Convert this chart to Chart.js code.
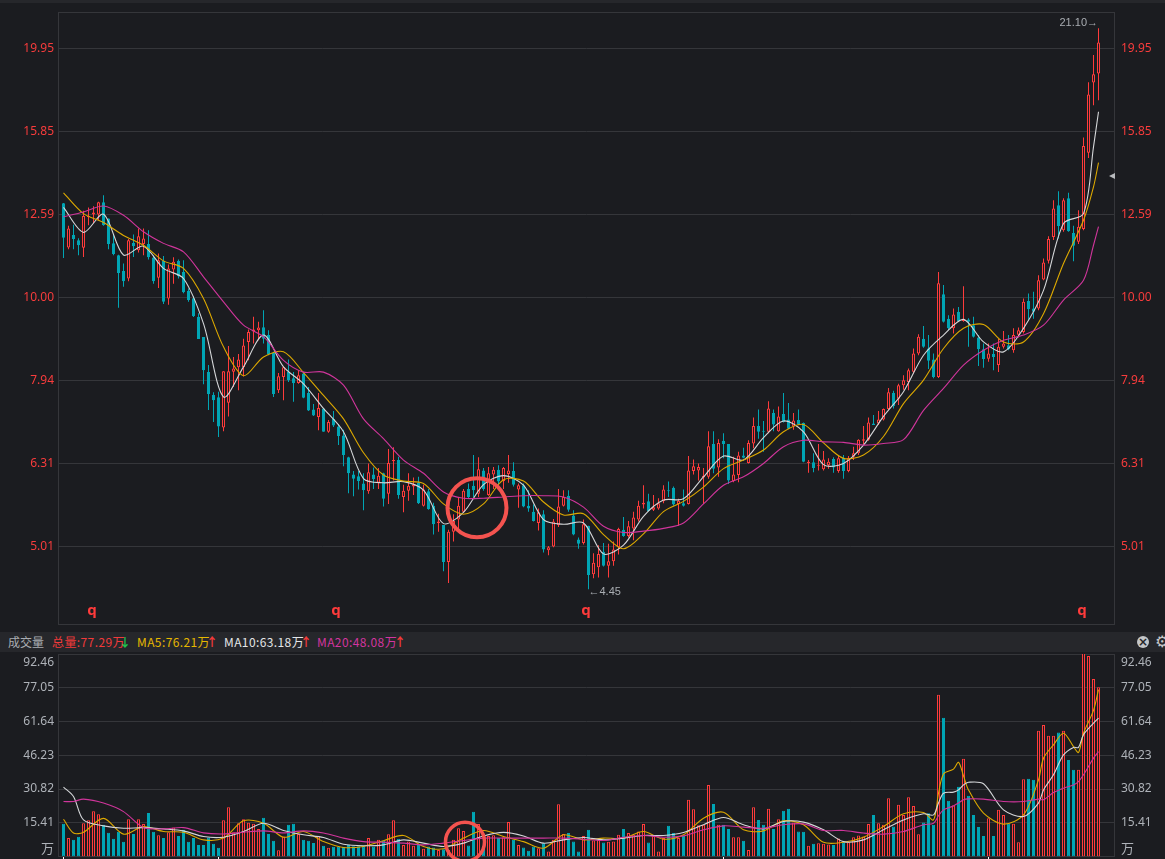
<!DOCTYPE html>
<html>
<head>
<meta charset="utf-8">
<title>K线</title>
<script src="https://cdn.jsdelivr.net/npm/chart.js@4/dist/chart.umd.min.js"></script>
<style>
  html, body { margin: 0; padding: 0; background: #1b1c20; overflow: hidden; width: 1165px; height: 859px; }
  canvas { position: absolute; left: 0; }
  #topband { position: absolute; left: 0; top: 0; width: 1165px; height: 3px; background: #26272b; }
  #volbar { position: absolute; left: 0; top: 632px; width: 1165px; height: 20px; background: #26272b;
    font: 12px "Noto Sans CJK SC", "Noto Sans", sans-serif; line-height: 20px; }
  #volbar span { position: absolute; top: 0; white-space: nowrap; }
  #volbar .ma { letter-spacing: 0.4px; }
  #closeBtn { position: absolute; left: 1137px; top: 4px; width: 12px; height: 12px; border-radius: 6px; background: #c4c6c8;
    color: #26272b; font: bold 12px/12px "DejaVu Sans"; text-align: center; }
</style>
</head>
<body>
<div id="topband"></div>
<canvas id="priceChart" width="1165" height="632" style="top:0;width:1165px;height:632px"></canvas>
<div id="volbar">
  <span style="left:8px;color:#a9adb2">成交量</span>
  <span class="ma" style="left:52px;color:#f23a3a">总量:77.29万</span>
  <span style="left:119px;color:#1fc24f;font-weight:bold">↓</span>
  <span class="ma" style="left:137px;color:#e6b800">MA5:76.21万</span>
  <span style="left:206px;color:#f23a3a;font-weight:bold">↑</span>
  <span class="ma" style="left:224px;color:#e4e6e8">MA10:63.18万</span>
  <span style="left:300px;color:#f23a3a;font-weight:bold">↑</span>
  <span class="ma" style="left:317px;color:#d3359f">MA20:48.08万</span>
  <span style="left:394px;color:#f23a3a;font-weight:bold">↑</span>
  <div id="closeBtn">×</div>
  <span style="left:1155px;color:#c4c6c8;font:16px/20px 'DejaVu Sans'">⚙</span>
</div>
<canvas id="volChart" width="1165" height="209" style="top:650px;width:1165px;height:209px"></canvas>

<script>
const opens = [
  12.99,11.49,11.89,11.72,11.48,12.50,12.59,12.59,13.02,12.45,
  11.62,11.24,10.76,10.54,11.63,11.40,11.60,11.60,11.17,10.56,
  11.07,9.97,10.81,11.07,10.73,10.18,9.98,9.48,8.96,8.13,
  7.63,7.58,6.97,7.47,8.14,8.24,8.24,8.84,9.10,9.13,
  9.21,9.01,8.58,7.73,8.02,8.14,7.99,7.89,8.10,7.67,
  7.33,7.18,7.35,6.89,7.14,6.99,6.82,6.42,6.12,6.09,
  5.97,5.84,6.12,5.98,6.14,5.80,6.35,6.37,5.75,5.85,
  5.92,5.98,5.61,5.84,5.61,5.35,5.32,4.80,5.22,5.40,
  5.52,5.88,5.93,5.80,6.19,5.78,6.12,6.20,6.01,6.13,
  6.18,5.87,5.94,5.61,5.52,5.35,5.48,4.96,5.01,5.32,
  5.61,5.77,5.46,5.11,5.06,5.31,4.64,4.73,4.94,4.75,
  4.81,5.00,5.25,5.16,5.27,5.40,5.63,5.68,5.55,5.57,
  5.68,5.86,5.90,5.64,5.65,5.64,6.18,6.19,6.07,6.08,
  6.66,6.24,6.72,6.66,6.01,6.11,6.45,6.32,6.67,7.00,
  6.90,6.89,7.26,6.90,7.24,7.13,6.99,7.12,7.06,6.32,
  6.33,6.27,6.21,6.28,6.39,6.18,6.41,6.18,6.43,6.49,
  6.72,6.74,7.05,7.05,7.13,7.34,7.67,7.55,7.84,7.91,
  8.14,8.56,8.92,8.68,8.42,8.02,10.09,9.43,9.18,9.61,
  9.37,9.41,9.26,8.95,8.66,8.44,8.55,8.29,8.72,8.76,
  8.64,9.02,9.09,9.90,9.70,9.70,10.51,11.07,11.83,12.92,
  12.05,13.17,11.96,11.67,12.09,14.94,18.16,18.61
];
const closes = [
  11.80,12.11,11.76,11.56,12.54,12.54,12.66,13.02,12.22,11.60,
  11.28,10.70,10.46,11.72,11.53,11.85,11.78,11.18,10.46,11.09,
  9.88,10.84,11.04,10.61,10.15,9.93,9.49,8.91,8.17,7.65,
  7.52,6.99,8.15,8.15,8.21,8.42,8.75,9.09,9.15,9.20,
  8.92,8.54,7.65,8.04,8.24,7.95,7.88,8.06,7.57,7.31,
  7.21,7.36,6.89,7.08,7.01,6.81,6.46,6.14,6.05,6.01,
  5.86,6.16,6.04,6.10,5.72,6.32,6.37,5.78,5.85,5.93,
  5.95,5.65,5.87,5.56,5.33,5.37,4.80,5.22,5.38,5.61,
  5.85,5.75,5.86,6.21,5.88,6.14,6.20,6.00,6.23,6.19,
  5.95,5.94,5.60,5.57,5.38,5.51,4.97,5.00,5.37,5.60,
  5.75,5.55,5.18,5.05,5.33,4.63,4.79,4.91,4.75,4.81,
  4.97,5.26,5.16,5.30,5.43,5.61,5.66,5.53,5.59,5.65,
  5.87,5.84,5.63,5.69,5.61,6.19,6.26,6.25,6.10,6.62,
  6.22,6.68,6.66,6.02,6.12,6.45,6.41,6.68,7.00,6.89,
  6.89,7.35,7.03,7.19,7.08,6.95,7.11,7.03,6.34,6.34,
  6.23,6.28,6.38,6.34,6.24,6.40,6.18,6.40,6.49,6.74,
  6.75,7.07,7.02,7.13,7.34,7.69,7.40,7.84,7.95,8.17,
  8.56,8.97,8.72,8.39,8.02,10.40,9.35,9.18,9.54,9.37,
  9.43,9.35,8.97,8.66,8.43,8.56,8.48,8.72,8.80,8.66,
  9.01,9.13,9.88,9.68,9.61,10.49,11.02,11.76,12.80,12.19,
  13.10,12.02,11.54,12.17,15.22,17.56,18.58,20.29
];
const highs = [
  13.00,12.20,12.24,11.79,12.72,12.84,12.88,13.04,13.28,12.45,
  11.89,11.26,10.99,11.76,11.91,12.11,12.11,12.05,11.24,11.30,
  11.22,10.96,11.18,11.11,11.09,10.25,10.04,9.57,8.96,8.29,
  7.69,7.70,8.15,8.74,8.48,8.55,8.92,9.15,9.48,9.35,
  9.65,9.13,8.60,8.11,8.25,8.42,8.13,8.17,8.14,7.80,
  7.44,7.67,7.36,7.12,7.30,7.04,6.93,6.43,6.18,6.18,
  6.14,6.31,6.24,6.23,6.15,6.57,6.60,6.43,5.95,6.14,
  6.07,6.08,5.95,5.88,5.66,5.49,5.32,5.25,5.48,5.75,
  5.88,5.97,6.46,6.42,6.23,6.25,6.25,6.28,6.25,6.46,
  6.33,5.97,5.97,5.86,5.63,5.57,5.54,5.02,5.41,5.88,
  5.86,5.86,5.54,5.14,5.40,5.31,4.92,5.03,5.06,5.05,
  5.08,5.28,5.44,5.38,5.52,5.69,5.94,5.80,5.78,5.73,
  5.94,6.00,5.92,5.72,5.87,6.44,6.38,6.31,6.23,6.90,
  6.90,6.75,6.86,6.66,6.43,6.52,6.59,6.73,7.17,7.33,
  7.10,7.50,7.33,7.39,7.67,7.46,7.26,7.33,7.07,6.37,
  6.49,6.66,6.53,6.40,6.42,6.44,6.46,6.44,6.61,6.75,
  7.00,7.17,7.22,7.30,7.35,7.78,7.72,7.87,8.06,8.21,
  8.68,9.03,9.24,9.01,8.56,10.73,10.35,9.52,9.70,9.74,
  10.32,9.44,9.48,9.01,8.80,8.80,8.80,8.92,9.11,9.01,
  9.18,9.20,9.97,10.11,10.16,10.64,11.14,11.85,13.10,13.43,
  13.17,13.37,12.20,12.74,15.59,18.17,19.59,21.10
];
const lows = [
  11.16,11.43,11.43,11.24,11.19,12.22,12.30,12.39,12.20,11.43,
  11.24,9.72,10.30,10.46,11.19,11.33,11.24,11.11,10.39,10.27,
  9.82,9.80,10.39,10.54,10.12,9.88,9.47,8.91,7.86,7.32,
  7.08,6.79,6.90,7.19,7.80,7.73,8.03,8.40,8.80,8.88,
  8.80,8.52,7.59,7.67,7.52,7.91,7.49,7.87,7.56,7.30,
  7.20,6.92,6.89,6.87,6.98,6.64,6.26,5.81,5.76,5.87,
  5.54,5.80,5.88,5.88,5.60,5.64,6.02,5.72,5.51,5.69,
  5.78,5.64,5.60,5.55,5.18,5.22,4.68,4.53,5.08,5.22,
  5.51,5.73,5.75,5.75,5.85,5.77,5.88,5.96,5.88,5.98,
  5.92,5.58,5.59,5.52,5.37,5.24,4.93,4.89,5.00,5.29,
  5.60,5.52,5.17,4.98,5.04,4.45,4.59,4.60,4.74,4.60,
  4.75,4.90,5.15,5.14,5.10,5.37,5.57,5.52,5.53,5.55,
  5.65,5.75,5.61,5.31,5.60,5.63,6.12,6.02,5.64,6.05,
  6.14,6.08,6.40,5.96,5.99,5.99,6.40,6.31,6.58,6.76,
  6.52,6.86,6.90,6.89,7.07,6.94,6.93,7.02,6.33,6.15,
  6.16,6.19,6.19,6.22,6.15,6.15,6.05,6.16,6.37,6.46,
  6.66,6.72,7.02,7.02,7.11,7.32,7.35,7.42,7.74,7.73,
  8.10,8.52,8.70,8.20,7.99,8.00,9.33,9.13,9.05,9.35,
  9.35,8.72,8.95,8.27,8.23,8.37,8.17,8.13,8.68,8.64,
  8.58,8.95,9.05,9.39,9.43,9.65,10.49,10.99,11.73,11.78,
  12.00,12.00,11.06,11.60,12.05,14.73,17.05,17.29
];
const volumes = [
  14.9,8.4,7.6,9.0,15.2,16.6,20.7,19.3,14.5,10.8,
  8.1,11.3,6.7,17.0,10.3,17.0,14.8,19.9,11.3,9.7,
  8.5,11.1,13.2,9.4,12.2,6.7,8.5,5.3,5.3,8.7,
  5.8,4.0,16.6,22.5,11.1,15.2,17.0,15.4,14.9,12.5,
  17.7,10.3,7.2,2.9,9.1,14.5,14.9,10.3,7.6,7.2,
  6.2,9.3,4.9,4.0,4.4,4.4,4.4,5.3,4.7,4.7,
  4.7,8.4,4.6,7.6,7.3,10.2,16.6,8.1,5.3,6.8,
  4.9,5.3,3.5,4.6,4.1,3.0,3.3,3.0,7.6,12.9,
  11.7,5.0,20.4,14.8,4.6,9.4,9.7,8.4,8.8,15.8,
  7.6,5.3,4.1,2.6,4.6,3.8,6.1,2.3,7.6,23.9,
  10.3,10.7,6.8,2.3,9.4,12.2,7.3,7.6,6.4,6.7,
  6.8,9.9,12.6,10.7,9.9,11.4,14.8,6.4,9.4,2.3,
  8.4,14.0,10.7,8.4,9.4,25.9,21.6,14.3,14.5,32.7,
  24.0,14.5,14.5,12.6,8.8,8.8,7.2,3.0,22.5,16.7,
  14.5,21.8,12.5,17.0,20.9,21.8,15.5,11.4,11.3,4.9,
  5.8,6.1,5.8,5.5,5.2,8.2,6.5,6.5,8.8,9.6,
  9.1,14.8,19.0,15.2,14.5,26.6,13.7,23.6,19.0,27.1,
  23.1,10.2,15.5,19.8,14.5,73.8,63.3,25.4,23.4,31.8,
  44.6,27.7,19.0,13.5,9.4,17.5,9.4,21.3,19.0,14.9,
  14.9,6.5,35.3,35.5,35.0,57.4,60.0,55.1,55.1,56.6,
  57.4,44.1,39.6,39.6,95.0,91.6,81.0,77.3
];

const priceMaBars = [0,4,8,12,16,20,24,28,32,36,40,44,48,52,56,60,64,68,72,76,80,84,88,92,96,100,104,108,112,116,120,124,128,132,136,140,144,148,152,156,160,164,168,172,176,180,184,188,192,196,200,204,206,207];
const priceMa5 = [12.84,11.98,12.60,11.25,11.53,10.84,10.54,9.30,7.59,8.25,9.01,8.25,7.87,7.35,6.89,6.05,5.98,6.00,5.86,5.34,5.51,5.95,6.10,5.94,5.40,5.33,5.35,4.91,5.03,5.45,5.70,5.72,6.08,6.44,6.37,6.78,7.10,6.89,6.29,6.31,6.64,7.19,7.70,8.52,9.01,9.41,8.84,8.60,9.18,10.2,12.28,12.62,15.19,16.74];
const priceMa10 = [13.37,12.62,12.31,11.88,11.56,11.07,10.84,9.97,8.72,8.05,8.48,8.60,8.12,7.62,7.14,6.50,6.11,6.01,5.97,5.64,5.48,5.64,6.03,6.01,5.67,5.47,5.49,5.18,4.98,5.19,5.52,5.68,5.91,6.22,6.37,6.55,6.89,7.03,6.68,6.40,6.46,6.80,7.45,7.95,8.68,9.18,9.28,8.84,8.84,9.56,10.99,12.39,13.59,14.54];
const priceMa20 = [12.51,12.68,12.89,12.56,12.00,11.62,11.35,10.59,9.88,9.26,8.97,8.40,8.13,8.13,7.84,7.14,6.76,6.37,6.14,5.83,5.73,5.73,5.75,5.77,5.77,5.75,5.59,5.30,5.21,5.23,5.27,5.35,5.64,5.94,6.08,6.31,6.61,6.73,6.70,6.69,6.64,6.67,6.74,7.31,7.77,8.29,8.64,8.88,9.01,9.26,9.93,10.49,11.56,12.17];

const volMaBars = [0,2,4,8,12,16,20,24,28,32,36,40,44,48,52,56,60,64,68,72,76,80,84,88,92,96,100,104,108,112,116,120,124,128,132,136,140,144,148,152,156,160,164,168,172,174,175,176,178,179,180,181,184,188,192,195,196,198,200,202,203,204,206,207];
const volMa5 = [17.0,10.7,11.1,17.4,10.2,13.7,11.4,11.1,7.6,8.4,16.3,15.2,8.8,11.4,6.8,4.1,4.6,7.2,9.6,4.6,3.5,8.4,11.9,9.1,6.8,3.8,9.9,7.6,8.4,8.4,11.4,7.9,9.9,17.5,20.2,12.2,11.7,16.3,14.5,6.5,6.5,8.8,13.7,19.5,20.1,16.7,28.9,37.7,39.9,43.0,36.8,30.4,19.8,14.8,19.0,35.0,44.9,51.0,56.3,50.2,47.5,56.3,66.7,76.2];
const volMa10 = [31.7,27.4,16.7,14.0,12.9,13.2,12.6,11.7,9.1,8.8,11.4,15.2,11.9,9.9,8.7,5.6,4.9,5.3,7.6,6.1,4.6,6.1,9.4,11.0,9.4,6.1,7.6,8.7,7.6,8.4,9.6,9.6,11.0,14.5,17.8,14.5,12.6,16.0,15.7,12.2,6.8,7.6,12.2,16.7,19.5,19.0,24.4,28.9,29.4,30.4,32.7,33.9,33.2,21.3,18.3,24.4,30.4,37.3,46.4,49.8,49.8,55.6,60.9,63.2];
const volMa20 = [25.1,25.1,26.2,24.4,20.5,13.2,12.6,13.2,10.8,10.3,11.1,11.7,10.8,11.7,10.7,8.4,6.8,6.5,6.1,5.3,6.1,7.3,8.4,8.4,8.4,8.4,8.4,7.9,7.3,8.8,9.6,8.8,9.4,12.2,14.0,13.4,12.9,14.5,14.9,11.9,11.9,10.7,10.2,11.4,14.5,15.2,18.6,21.3,23.1,24.4,25.9,26.3,26.2,25.1,25.1,26.2,25.9,29.2,31.2,32.7,34.2,37.3,44.9,47.9];

const priceTicks = [5.01, 6.31, 7.94, 10.00, 12.59, 15.85, 19.95];
const volTicks = [15.41, 30.82, 46.23, 61.64, 77.05];
const volTopLabel = "92.46";
const volUnitLabel = "万";
const markBars = [5.7, 54.5, 104.5, 203.7];
const dateTickBars = [0, 31, 132, 185];
const bars = opens.map((_, i) => i);

const BG = "#1b1c20", GRID = "#35363a", RED = "#ff3b3b", TEAL = "#00a5b4";
const WHITE = "#d4d6d8", YELLOW = "#dca800", PINK = "#d0359b";
const FONT = { family: "'Noto Sans', sans-serif", size: 12 };
const isUp = (i) => closes[i] >= opens[i];

// fixed gutters, and no extra inset for half a label height
const fixedWidth = (w) => (axis) => {
    axis.width = w;
    axis.paddingTop = 0;
    axis.paddingBottom = 0;
};
const setTicks = (vals) => (axis) => { axis.ticks = vals.map((value) => ({ value })); };

function maLine(xs, ys, color) {
    return {
        type: "line",
        data: xs.map((x, k) => ({ x: x, y: ys[k] })),
        borderColor: color,
        borderWidth: 1.1,
        pointRadius: 0,
        tension: 0.3,
        order: 0,
    };
}

function drawFrame(chart) {
    const { ctx, chartArea: a } = chart;
    ctx.save();
    ctx.strokeStyle = GRID;
    ctx.lineWidth = 1;
    ctx.strokeRect(Math.round(a.left) + 0.5, Math.round(a.top) + 0.5, Math.round(a.right - a.left) - 1, Math.round(a.bottom - a.top) - 1);
    ctx.restore();
}

function ring(ctx, x, y, r, w) {
    ctx.beginPath();
    ctx.arc(x, y, r, 0, Math.PI * 2);
    ctx.strokeStyle = "#f4534f";
    ctx.lineWidth = w;
    ctx.stroke();
}

const pricePlugin = {
    id: "priceExtras",
    beforeDatasetsDraw: drawFrame,
    afterDatasetsDraw(chart) {
        const { ctx, scales, chartArea: a } = chart;
        const x = scales.x, y = scales.y;
        ctx.save();
        ctx.textBaseline = "middle";
        ctx.textAlign = "center";
        ctx.fillStyle = RED;
        ctx.font = "bold 15px 'Noto Sans', sans-serif";
        markBars.forEach((b) => ctx.fillText("q", x.getPixelForValue(b), a.bottom - 13));

        ctx.font = "11px 'Liberation Sans', sans-serif";
        ctx.fillStyle = "#a9adb2";
        ctx.textAlign = "right";
        ctx.fillText("21.10→", x.getPixelForValue(207) - 0.5, y.getPixelForValue(21.1) - 5);
        ctx.textAlign = "left";
        ctx.fillText("←4.45", x.getPixelForValue(105), y.getPixelForValue(4.45) + 3);

        // last price marker on the right edge
        ctx.fillStyle = "#b8babd";
        ctx.beginPath();
        ctx.moveTo(1109, 176);
        ctx.lineTo(1115, 173);
        ctx.lineTo(1115, 179);
        ctx.closePath();
        ctx.fill();

        ring(ctx, x.getPixelForValue(82.7), y.getPixelForValue(5.58), 29.5, 4);
        ctx.restore();
    },
};

const volPlugin = {
    id: "volExtras",
    beforeDatasetsDraw: drawFrame,
    afterDatasetsDraw(chart) {
        const { ctx, scales, chartArea: a } = chart;
        ring(ctx, scales.x.getPixelForValue(80.3), scales.y.getPixelForValue(6.7), 19.5, 3.5);
        ctx.save();
        ctx.fillStyle = "#aeb2b8";
        ctx.font = "12px 'Noto Sans', 'Noto Sans CJK SC', sans-serif";
        ctx.textBaseline = "middle";
        ctx.textAlign = "right";
        ctx.fillText(volTopLabel, 54, a.top + 9);
        ctx.font = "13px 'Noto Sans CJK SC', sans-serif";
        ctx.fillText(volUnitLabel, 54, a.bottom - 8);
        ctx.textAlign = "left";
        ctx.font = "12px 'Noto Sans', 'Noto Sans CJK SC', sans-serif";
        ctx.fillText(volTopLabel, 1121, a.top + 9);
        ctx.font = "13px 'Noto Sans CJK SC', sans-serif";
        ctx.fillText(volUnitLabel, 1121, a.bottom - 8);
        ctx.restore();
    },
};

const baseOptions = {
    responsive: false,
    devicePixelRatio: 1,
    animation: false,
    events: [],
    plugins: { legend: { display: false }, tooltip: { enabled: false }, title: { display: false } },
};

new Chart(document.getElementById("priceChart"), {
    data: {
        labels: bars,
        datasets: [
            maLine(priceMaBars, priceMa20, PINK),
            maLine(priceMaBars, priceMa10, YELLOW),
            maLine(priceMaBars, priceMa5, WHITE),
            {
                type: "bar",
                data: bars.map((i) => [opens[i], closes[i]]),
                grouped: false,
                maxBarThickness: 3,
                barPercentage: 1,
                minBarLength: 1,
                borderSkipped: false,
                borderWidth: 1,
                borderColor: bars.map((i) => (isUp(i) ? RED : TEAL)),
                backgroundColor: bars.map((i) => (isUp(i) ? BG : TEAL)),
                order: 1,
            },
            {
                type: "bar",
                data: bars.map((i) => [lows[i], highs[i]]),
                grouped: false,
                maxBarThickness: 1,
                barPercentage: 1,
                borderSkipped: false,
                borderWidth: 0,
                backgroundColor: bars.map((i) => (isUp(i) ? RED : TEAL)),
                order: 2,
            },
        ],
    },
    options: {
        ...baseOptions,
        layout: { padding: { top: 11.5, bottom: 8, left: 0, right: 0 } },
        scales: {
            x: { type: "linear", display: false, offset: false, grid: { offset: false }, min: -1.1, max: 210.3 },
            y: {
                type: "logarithmic",
                position: "left",
                min: 4.042,
                max: 22.11,
                afterFit: fixedWidth(58),
                afterBuildTicks: setTicks(priceTicks),
                border: { display: false },
                grid: { color: GRID, lineWidth: 1, drawTicks: false },
                ticks: { autoSkip: false, color: "#f83c3c", font: FONT, padding: 4, maxRotation: 0, callback: (v) => v.toFixed(2) },
            },
            y2: {
                type: "logarithmic",
                position: "right",
                min: 4.042,
                max: 22.11,
                afterFit: fixedWidth(50),
                afterBuildTicks: setTicks(priceTicks),
                border: { display: false },
                grid: { display: false, drawTicks: false },
                ticks: { autoSkip: false, color: "#f83c3c", font: FONT, padding: 6, maxRotation: 0, callback: (v) => v.toFixed(2) },
            },
        },
    },
    plugins: [pricePlugin],
});

new Chart(document.getElementById("volChart"), {
    data: {
        labels: bars,
        datasets: [
            maLine(volMaBars, volMa20, PINK),
            maLine(volMaBars, volMa10, WHITE),
            maLine(volMaBars, volMa5, YELLOW),
            {
                type: "bar",
                data: volumes,
                grouped: false,
                maxBarThickness: 3,
                barPercentage: 1,
                borderSkipped: false,
                borderWidth: 1,
                borderColor: bars.map((i) => (isUp(i) ? RED : TEAL)),
                backgroundColor: bars.map((i) => (isUp(i) ? BG : TEAL)),
                order: 1,
            },
        ],
    },
    options: {
        ...baseOptions,
        layout: { padding: { top: 4, bottom: 0, left: 0, right: 0 } },
        scales: {
            x: {
                type: "linear",
                position: "bottom",
                offset: false,
                min: -1.1,
                max: 210.3,
                afterFit: (axis) => {
                    axis.height = 2.5;
                    axis.paddingLeft = 0;
                    axis.paddingRight = 0;
                },
                afterBuildTicks: setTicks(dateTickBars),
                border: { display: false },
                grid: { offset: false, drawOnChartArea: false, drawTicks: true, tickLength: 3, tickColor: "#ffffff", tickWidth: 1 },
                ticks: { display: false },
            },
            y: {
                type: "linear",
                position: "left",
                min: 0,
                max: 92.46,
                afterFit: fixedWidth(58),
                afterBuildTicks: setTicks(volTicks),
                border: { display: false },
                grid: { color: GRID, lineWidth: 1, drawTicks: false },
                ticks: { autoSkip: false, color: "#aeb2b8", font: FONT, padding: 4, maxRotation: 0, callback: (v) => v.toFixed(2) },
            },
            y2: {
                type: "linear",
                position: "right",
                min: 0,
                max: 92.46,
                afterFit: fixedWidth(50),
                afterBuildTicks: setTicks(volTicks),
                border: { display: false },
                grid: { display: false, drawTicks: false },
                ticks: { autoSkip: false, color: "#aeb2b8", font: FONT, padding: 6, maxRotation: 0, callback: (v) => v.toFixed(2) },
            },
        },
    },
    plugins: [volPlugin],
});
</script>
</body>
</html>
